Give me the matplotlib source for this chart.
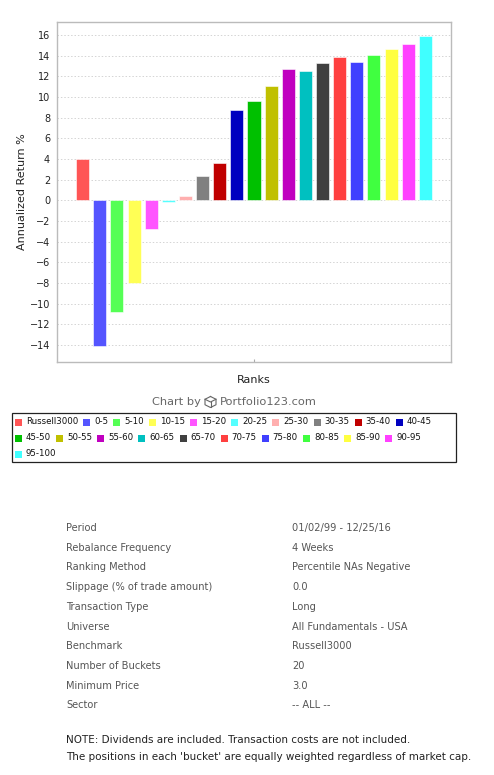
import matplotlib
matplotlib.use("Agg")
import matplotlib.pyplot as plt
from matplotlib.patches import Rectangle
from matplotlib.lines import Line2D

# data
buckets = ["Russell3000", "0-5", "5-10", "10-15", "15-20", "20-25", "25-30",
           "30-35", "35-40", "40-45", "45-50", "50-55", "55-60", "60-65",
           "65-70", "70-75", "75-80", "80-85", "85-90", "90-95", "95-100"]
returns = [4.0, -14.1, -10.8, -8.0, -2.8, -0.2, 0.4,
           2.35, 3.6, 8.7, 9.6, 11.05, 12.7, 12.5,
           13.3, 13.85, 13.4, 14.05, 14.6, 15.1, 15.85]
colors = ["#FF5555", "#5555FF", "#55FF55", "#FFFF55", "#FF55FF", "#55FFFF", "#FFAFAF",
          "#808080", "#C00000", "#0000C0", "#00C000", "#C0C000", "#C000C0", "#00C0C0",
          "#404040", "#FF4040", "#4040FF", "#40FF40", "#FFFF40", "#FF40FF", "#40FFFF"]

yticks = list(range(-14, 17, 2))

info_labels = ["Period", "Rebalance Frequency", "Ranking Method",
               "Slippage (% of trade amount)", "Transaction Type", "Universe",
               "Benchmark", "Number of Buckets", "Minimum Price", "Sector"]
info_values = ["01/02/99 - 12/25/16", "4 Weeks", "Percentile NAs Negative",
               "0.0", "Long", "All Fundamentals - USA", "Russell3000",
               "20", "3.0", "-- ALL --"]
notes = ["NOTE: Dividends are included. Transaction costs are not included.",
         "The positions in each 'bucket' are equally weighted regardless of market cap."]

W, H = 494, 775
fig = plt.figure(figsize=(W / 100, H / 100), dpi=100)

def fx(px):
    return px / W

def fy(py):
    return 1 - py / H

ax = fig.add_axes([fx(57), fy(362), fx(451) - fx(57), fy(22) - fy(362)])
x = list(range(len(buckets)))
ax.bar(x, returns, width=0.76, color=colors, edgecolor="white", linewidth=0.4, zorder=3)
ax.set_xlim(-1.5, 21.5)
ax.set_ylim(-15.65, 17.25)
ax.set_yticks(yticks)
ax.set_xticks([10])
ax.set_xticklabels([""])
ax.tick_params(axis="y", length=0, labelsize=7, pad=5, colors="#222222")
ax.tick_params(axis="x", length=2, direction="in", color="#aaaaaa")
ax.grid(axis="y", color="#d4d4d4", linestyle=(0, (1.5, 2)), linewidth=0.7, zorder=0)
for s in ax.spines.values():
    s.set_color("#bbbbbb")
    s.set_linewidth(1.0)
ax.set_ylabel("Annualized Return %", fontsize=8, color="#222222", labelpad=2)

fig.text(fx(254), fy(380), "Ranks", ha="center", va="center", fontsize=8, color="#222222")

# "Chart by <cube> Portfolio123.com"
fig.text(fx(201), fy(402), "Chart by", ha="right", va="center", fontsize=8.2, color="#666666")
fig.text(fx(220), fy(402), "Portfolio123.com", ha="left", va="center", fontsize=8.2, color="#666666")
cx, cy, r = 210.5, 402, 5.5
cube = [[(cx, cy - r), (cx + r, cy - r / 2), (cx + r, cy + r / 2), (cx, cy + r),
         (cx - r, cy + r / 2), (cx - r, cy - r / 2), (cx, cy - r)],
        [(cx - r, cy - r / 2), (cx, cy), (cx + r, cy - r / 2)],
        [(cx, cy), (cx, cy + r)]]
for seg in cube:
    fig.add_artist(Line2D([fx(p[0]) for p in seg], [fy(p[1]) for p in seg],
                          color="#666666", linewidth=0.8))

# legend box with flowing entries
fig.add_artist(Rectangle((fx(12), fy(462)), fx(456) - fx(12), fy(413) - fy(462),
                         fill=False, edgecolor="#222222", linewidth=0.9))
fig.canvas.draw()
renderer = fig.canvas.get_renderer()
lx, ly = 15, 422
for name, c in zip(buckets, colors):
    t = fig.text(0, 0, name, fontsize=6.2, va="center", ha="left", color="#111111")
    tw = t.get_window_extent(renderer).width
    need = 6 + 4 + tw + 6
    if lx + need > 452:
        lx = 15
        ly += 16
    fig.add_artist(Rectangle((fx(lx), fy(ly + 3.5)), fx(7), 7 / H, color=c, linewidth=0))
    t.set_position((fx(lx + 11), fy(ly)))
    lx += need

# settings table
for i, (lab, val) in enumerate(zip(info_labels, info_values)):
    yy = 528 + i * 19.7
    fig.text(fx(66), fy(yy), lab, fontsize=7.1, va="center", ha="left", color="#555555")
    fig.text(fx(292), fy(yy), val, fontsize=7.1, va="center", ha="left", color="#555555")

for i, line in enumerate(notes):
    fig.text(fx(66), fy(740 + i * 17), line, fontsize=7.5, va="center", ha="left", color="#222222")

fig.savefig("out.png", dpi=100)
